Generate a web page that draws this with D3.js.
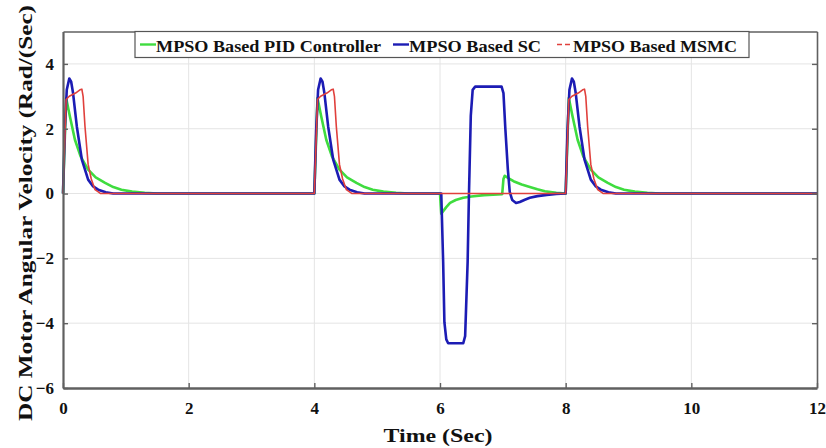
<!DOCTYPE html>
<html>
<head>
<meta charset="utf-8">
<script src="https://cdn.jsdelivr.net/npm/d3@7"></script>
<style>
  body { margin: 0; background: #fff; }
  text { font-family: "Liberation Serif", "Times New Roman", serif; font-weight: bold; fill: #111; }
</style>
</head>
<body>
<div id="chart"></div>
<script>
// axis ticks
const X_TICKS = [0, 2, 4, 6, 8, 10, 12];
const Y_TICKS = [-6, -4, -2, 0, 2, 4];

// [time, velocity]
const PID = [
  [0, 0], [0.05, 2.95], [0.11, 2.38], [0.19, 1.66], [0.28, 1.15], [0.4, 0.74], [0.52, 0.5],
  [0.67, 0.33], [0.8, 0.2], [0.93, 0.12], [1.1, 0.06], [1.3, 0.02], [1.5, 0],
  [4, 0], [4.05, 2.95], [4.11, 2.38], [4.19, 1.66], [4.28, 1.15], [4.4, 0.74], [4.52, 0.5],
  [4.67, 0.33], [4.8, 0.2], [4.93, 0.12], [5.1, 0.06], [5.3, 0.02], [5.5, 0],
  [6, 0], [6.02, -0.62], [6.1, -0.42], [6.16, -0.29], [6.25, -0.2], [6.37, -0.13], [6.5, -0.09],
  [6.7, -0.05], [6.99, -0.02], [7.01, 0.45], [7.03, 0.55], [7.1, 0.46], [7.17, 0.38], [7.3, 0.28],
  [7.43, 0.2], [7.55, 0.13], [7.67, 0.07], [7.85, 0.02], [8, 0],
  [8.05, 2.95], [8.11, 2.38], [8.19, 1.66], [8.28, 1.15], [8.4, 0.74], [8.52, 0.5],
  [8.67, 0.33], [8.8, 0.2], [8.93, 0.12], [9.1, 0.06], [9.3, 0.02], [9.5, 0], [12, 0]
];

const SC = [
  [0, 0], [0.03, 2.0], [0.06, 3.2], [0.1, 3.55], [0.13, 3.45], [0.16, 3.1], [0.22, 2.07], [0.3, 1.05],
  [0.4, 0.43], [0.48, 0.22], [0.56, 0.12], [0.68, 0.04], [0.8, 0],
  [4, 0], [4.03, 2.0], [4.06, 3.2], [4.1, 3.55], [4.13, 3.45], [4.16, 3.1], [4.22, 2.07], [4.3, 1.05],
  [4.4, 0.43], [4.48, 0.22], [4.56, 0.12], [4.68, 0.04], [4.8, 0],
  [6.02, 0], [6.05, -2.1], [6.07, -3.97], [6.1, -4.5], [6.13, -4.62], [6.37, -4.62], [6.4, -4.4],
  [6.44, -2.1], [6.46, -0.1], [6.49, 2.4], [6.52, 3.2], [6.56, 3.3], [6.98, 3.3], [7.01, 3.1],
  [7.04, 2.0], [7.08, 0.74], [7.11, 0.05], [7.15, -0.2], [7.21, -0.29], [7.27, -0.26], [7.35, -0.19],
  [7.43, -0.13], [7.55, -0.08], [7.7, -0.04], [7.85, -0.01], [8, 0],
  [8.03, 2.0], [8.06, 3.2], [8.1, 3.55], [8.13, 3.45], [8.16, 3.1], [8.22, 2.07], [8.3, 1.05],
  [8.4, 0.43], [8.48, 0.22], [8.56, 0.12], [8.68, 0.04], [8.8, 0], [12, 0]
];

const MSMC = [
  [0, 0], [0.05, 2.9], [0.1, 3.0], [0.2, 3.1], [0.27, 3.2], [0.3, 3.22], [0.32, 3.0], [0.35, 2.07],
  [0.4, 0.9], [0.45, 0.45], [0.51, 0.12], [0.6, 0],
  [4, 0], [4.05, 2.9], [4.1, 3.0], [4.2, 3.1], [4.27, 3.2], [4.3, 3.22], [4.32, 3.0], [4.35, 2.07],
  [4.4, 0.9], [4.45, 0.45], [4.51, 0.12], [4.6, 0],
  [8, 0], [8.05, 2.9], [8.1, 3.0], [8.2, 3.1], [8.27, 3.2], [8.3, 3.22], [8.32, 3.0], [8.35, 2.07],
  [8.4, 0.9], [8.45, 0.45], [8.51, 0.12], [8.6, 0], [12, 0]
];

const SERIES = [
  {name: 'MPSO Based PID Controller', data: PID, color: '#3fdc3f', width: 2.6, dash: null, textLen: 225},
  {name: 'MPSO Based SC', data: SC, color: '#1c1cb4', width: 2.6, dash: null, textLen: 132},
  {name: 'MPSO Based MSMC', data: MSMC, color: '#e0403c', width: 1.6, dash: '5,3', textLen: 164}
];

let margin = {top: 31.5, right: 9, bottom: 60, left: 63};
let width = 826 - margin.left - margin.right;
let height = 448 - margin.top - margin.bottom;

let x = d3.scaleLinear().domain([0, 12]).range([0, width]);
let y = d3.scaleLinear().domain([-6, 5]).range([height, 0]);

let svg = d3.select('#chart').append('svg')
    .attr('width', 826)
    .attr('height', 448);

let g = svg.append('g')
    .attr('transform', 'translate(' + margin.left + ',' + margin.top + ')');

// grid
g.append('g').selectAll('line')
    .data(X_TICKS.slice(1, -1))
    .join('line')
    .attr('x1', d => x(d)).attr('x2', d => x(d))
    .attr('y1', 0).attr('y2', height)
    .attr('stroke', '#e4e4e4').attr('stroke-width', 1);

g.append('g').selectAll('line')
    .data(Y_TICKS.slice(1))
    .join('line')
    .attr('y1', d => y(d)).attr('y2', d => y(d))
    .attr('x1', 0).attr('x2', width)
    .attr('stroke', '#e4e4e4').attr('stroke-width', 1);

// lines
let line = d3.line()
    .x(d => x(d[0]))
    .y(d => y(d[1]));

SERIES.forEach(s => {
    g.append('path')
        .datum(s.data)
        .attr('fill', 'none')
        .attr('stroke', s.color)
        .attr('stroke-width', s.width)
        .attr('stroke-linejoin', 'round')
        .attr('d', line);
});

// axes (ticks point inward like matlab)
let xAxis = g.append('g')
    .attr('transform', 'translate(0,' + height + ')')
    .call(d3.axisBottom(x).tickValues(X_TICKS).tickSizeInner(-5).tickSizeOuter(0).tickPadding(14));

let yAxis = g.append('g')
    .call(d3.axisLeft(y).tickValues(Y_TICKS).tickSizeInner(-5).tickSizeOuter(0).tickPadding(9));

g.append('g')
    .attr('transform', 'translate(' + width + ',0)')
    .call(d3.axisRight(y).tickValues(Y_TICKS).tickSizeInner(-5).tickSizeOuter(0).tickFormat(''));

g.append('g')
    .call(d3.axisTop(x).tickValues(X_TICKS).tickSizeInner(0).tickSizeOuter(0).tickFormat(''));

g.selectAll('.domain').attr('stroke', '#606060').attr('stroke-width', 1.6);
g.selectAll('.tick line').attr('stroke', '#606060').attr('stroke-width', 1.4);
g.selectAll('.tick text')
    .attr('font-size', 17)
    .attr('font-family', '"Liberation Serif", serif')
    .attr('font-weight', 'bold')
    .attr('fill', '#111');
xAxis.select('.domain').attr('stroke-width', 2.4);
yAxis.select('.domain').attr('stroke-width', 2.2);

// legend
let legend = svg.append('g');
legend.append('rect')
    .attr('x', 135).attr('y', 31.5)
    .attr('width', 614).attr('height', 26)
    .attr('fill', '#fff')
    .attr('stroke', '#555').attr('stroke-width', 1.2);

let legendX = [140, 393, 557];
SERIES.forEach((s, i) => {
    let lx = legendX[i];
    legend.append('line')
        .attr('x1', lx).attr('x2', lx + 16)
        .attr('y1', 44.5).attr('y2', 44.5)
        .attr('stroke', s.color)
        .attr('stroke-width', s.dash ? 1.6 : 2.4)
        .attr('stroke-dasharray', s.dash);
    legend.append('text')
        .attr('x', lx + 16)
        .attr('y', 51.5)
        .attr('font-size', 16)
        .attr('textLength', s.textLen)
        .attr('lengthAdjust', 'spacingAndGlyphs')
        .text(s.name);
});

// axis titles
svg.append('text')
    .attr('x', 438).attr('y', 442)
    .attr('text-anchor', 'middle')
    .attr('font-size', 19)
    .attr('textLength', 109)
    .attr('lengthAdjust', 'spacingAndGlyphs')
    .text('Time (Sec)');

svg.append('text')
    .attr('transform', 'translate(32,213) rotate(-90)')
    .attr('text-anchor', 'middle')
    .attr('font-size', 19)
    .attr('textLength', 416)
    .attr('lengthAdjust', 'spacingAndGlyphs')
    .text('DC Motor Angular Velocity (Rad/(Sec)');
</script>
</body>
</html>
